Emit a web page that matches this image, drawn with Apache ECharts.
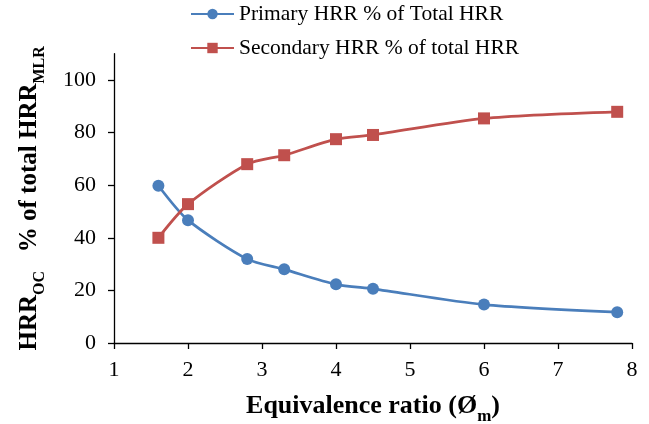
<!DOCTYPE html>
<html>
<head>
<meta charset="utf-8">
<script src="https://cdn.jsdelivr.net/npm/echarts@6/dist/echarts.min.js"></script>
<style>
  html, body { margin: 0; padding: 0; background: #fff; }
  #chart { width: 649px; height: 424px; }
</style>
</head>
<body>
<div id="chart"></div>
<script>
// Equivalence ratio on the x axis
const equivalenceRatio = [1.6, 2.0, 2.8, 3.3, 4.0, 4.5, 6.0, 7.8];
// Share of total heat release rate (%)
const primaryHRR = [59.8, 46.7, 31.9, 28.0, 22.3, 20.6, 14.6, 11.7];
const secondaryHRR = [40.0, 52.8, 68.0, 71.4, 77.5, 79.1, 85.4, 87.9];
const seriesNames = ['Primary HRR % of Total HRR', 'Secondary HRR % of total HRR'];
const yTicks = [0, 20, 40, 60, 80, 100];
const xTicks = [1, 2, 3, 4, 5, 6, 7, 8];

const FONT = '"Liberation Serif", "Times New Roman", serif';
const BLUE = '#4A7EBB';
const RED = '#C0504D';

const pairs = (xs, ys) => xs.map((x, i) => [x, ys[i]]);

const chart = echarts.init(document.getElementById('chart'), null, { renderer: 'canvas' });
chart.setOption({
  animation: false,
  backgroundColor: '#fff',
  textStyle: { fontFamily: FONT, color: '#000' },
  legend: {
    orient: 'vertical',
    left: 190,
    top: 3,
    padding: 0,
    itemWidth: 43,
    itemHeight: 13,
    itemGap: 12,
    textStyle: { fontFamily: FONT, fontSize: 21.5, color: '#000' },
    data: seriesNames
  },
  grid: { left: 114, right: 17, top: 53.7, bottom: 81, containLabel: false, outerBoundsMode: 'none' },
  xAxis: {
    type: 'value',
    min: 1,
    max: 8,
    interval: 1,
    axisLine: { show: true, onZero: false, lineStyle: { color: '#000', width: 1.3 } },
    axisTick: { show: true, length: 6, lineStyle: { color: '#000', width: 1.3 }, customValues: xTicks },
    axisLabel: { fontFamily: FONT, fontSize: 22, color: '#000', margin: 16, customValues: xTicks },
    splitLine: { show: false },
    name: '{b|Equivalence ratio (Ø}{s|m}{b|)}',
    nameLocation: 'middle',
    nameGap: 46,
    nameTextStyle: {
      rich: {
        b: { fontFamily: FONT, fontSize: 26, fontWeight: 'bold', color: '#000', lineHeight: 30, verticalAlign: 'bottom' },
        s: { fontFamily: FONT, fontSize: 17, fontWeight: 'bold', color: '#000', lineHeight: 30, verticalAlign: 'bottom', padding: [0, 0, -6, 0] }
      }
    }
  },
  yAxis: {
    type: 'value',
    min: 0,
    max: 110,
    interval: 20,
    axisLine: { show: true, lineStyle: { color: '#000', width: 1.3 } },
    axisTick: { show: true, length: 6, lineStyle: { color: '#000', width: 1.3 }, customValues: yTicks },
    axisLabel: { fontFamily: FONT, fontSize: 22, color: '#000', margin: 18, customValues: yTicks },
    splitLine: { show: false },
    name: '{b|HRR}{s|OC}{b|   % of total HRR}{s|MLR}',
    nameLocation: 'middle',
    nameRotate: 90,
    nameGap: 72,
    nameTextStyle: {
      rich: {
        b: { fontFamily: FONT, fontSize: 25, fontWeight: 'bold', color: '#000', lineHeight: 30, verticalAlign: 'bottom' },
        s: { fontFamily: FONT, fontSize: 16, fontWeight: 'bold', color: '#000', lineHeight: 30, verticalAlign: 'bottom', padding: [0, 0, -6, 0] }
      }
    }
  },
  series: [
    {
      name: seriesNames[0],
      type: 'line',
      smooth: 0.25,
      data: pairs(equivalenceRatio, primaryHRR),
      symbol: 'circle',
      symbolSize: 12,
      lineStyle: { color: BLUE, width: 2.75 },
      itemStyle: { color: BLUE }
    },
    {
      name: seriesNames[1],
      type: 'line',
      smooth: 0.25,
      data: pairs(equivalenceRatio, secondaryHRR),
      symbol: 'rect',
      symbolSize: 12,
      lineStyle: { color: RED, width: 2.75 },
      itemStyle: { color: RED }
    }
  ]
});
</script>
</body>
</html>
